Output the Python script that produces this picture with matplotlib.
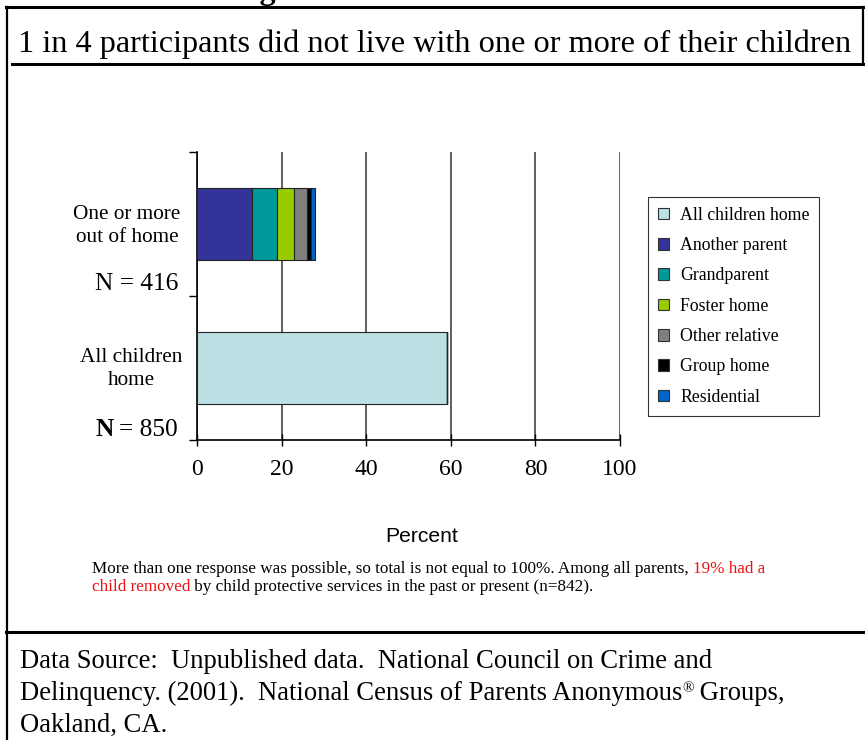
import matplotlib
matplotlib.use("Agg")
import matplotlib.pyplot as plt
from matplotlib.lines import Line2D
from matplotlib.patches import Patch

plt.rcParams['font.family'] = 'Liberation Serif'

groups = ['All children home', 'One or more out of home']
series = ['All children home', 'Another parent', 'Grandparent', 'Foster home',
          'Other relative', 'Group home', 'Residential']
colors = ['#BBE0E3', '#333399', '#009999', '#99CC00', '#808080', '#000000', '#0066CC']
# values per series for [All children home, One or more out of home]
all_home = [59, 0]
another_parent = [0, 13]
grandparent = [0, 6]
foster_home = [0, 4]
other_relative = [0, 3]
group_home = [0, 1]
residential = [0, 1]
values = [all_home, another_parent, grandparent, foster_home,
          other_relative, group_home, residential]
xticks = [0, 20, 40, 60, 80, 100]

W, H = 865, 740
fig = plt.figure(figsize=(W / 100, H / 100), dpi=100)


def fx(px):
    return px / W


def fy(py):
    return 1 - py / H


# frame lines
def hline(y, x0, x1, lw=2.2):
    fig.add_artist(Line2D([fx(x0), fx(x1)], [fy(y), fy(y)], color='black', lw=lw))


def vline(x, y0, y1, lw=1.6):
    fig.add_artist(Line2D([fx(x), fx(x)], [fy(y0), fy(y1)], color='black', lw=lw))


hline(7, 6, 865)
vline(7, 7, 740)
vline(863, 7, 64)
hline(64, 12, 863)
hline(632, 6, 865)

# figure heading, cut off at the top edge as in the source
fig.text(fx(442), fy(-1.5), "Figure 6: Children's Residence", ha='center', va='baseline',
         fontsize=23, fontweight='bold')

fig.text(fx(435), fy(52), '1 in 4 participants did not live with one or more of their children',
         ha='center', va='baseline', fontsize=23.2)

ax = fig.add_axes([fx(197), fy(440), fx(620) - fx(197), (440 - 152) / H])
left = [0, 0]
for name, vals, c in zip(series, values, colors):
    ax.barh([0, 1], vals, left=left, height=0.5, color=c, edgecolor='#222222',
            linewidth=0.8, label=name, zorder=3)
    left = [a + b for a, b in zip(left, vals)]

ax.set_xlim(0, 100)
ax.set_ylim(-0.5, 1.5)
ax.set_xticks(xticks)
ax.set_xticklabels([str(t) for t in xticks], fontsize=17)
ax.tick_params(axis='x', direction='inout', length=8, width=1, pad=10)
ax.set_yticks([-0.5, 0.5, 1.5])
ax.set_yticklabels([])
ax.tick_params(axis='y', direction='out', length=6, width=1)
ax.grid(axis='x', color='#444444', lw=1.2, zorder=1)
for s in ['top', 'right']:
    ax.spines[s].set_visible(False)
ax.spines['left'].set_linewidth(1.2)
ax.spines['bottom'].set_linewidth(1.2)

# category labels
fig.text(fx(127), fy(226), 'One or more\nout of home', ha='center', va='center',
         fontsize=15.3, linespacing=1.3)
fig.text(fx(178), fy(290), 'N = 416', ha='right', va='baseline', fontsize=18.3)
fig.text(fx(131), fy(369), 'All children\nhome', ha='center', va='center',
         fontsize=15.3, linespacing=1.3)
t850 = fig.text(fx(178), fy(436), '= 850', ha='right', va='baseline', fontsize=18.3)
ax.annotate('N', xy=(0, 0), xycoords=t850, xytext=(-4, 0), textcoords='offset points',
            ha='right', va='bottom', fontsize=18.3, fontweight='bold', annotation_clip=False)

handles = [Patch(facecolor=c, edgecolor='#333333', lw=0.8) for c in colors]
leg = ax.legend(handles, series, loc='upper left', bbox_to_anchor=(fx(648), fy(197)),
                bbox_transform=fig.transFigure, fontsize=12.8, frameon=True, fancybox=False,
                edgecolor='black', handlelength=0.65, handleheight=0.65, handletextpad=0.6,
                labelspacing=0.75, borderpad=0.55, borderaxespad=0)
leg.get_frame().set_linewidth(0.8)

fig.text(fx(422), fy(542), 'Percent', ha='center', va='baseline', fontsize=15.2,
         family='Liberation Sans')

# footnote with red part
fs = 12.3
t1 = fig.text(fx(92), fy(573), 'More than one response was possible, so total is not equal to 100%. '
              'Among all parents, ', ha='left', va='baseline', fontsize=fs)
ax.annotate('19% had a', xy=(1, 0), xycoords=t1, va='bottom', ha='left',
            fontsize=fs, color='#EE1111', annotation_clip=False)
t2 = fig.text(fx(92), fy(591), 'child removed', ha='left', va='baseline', fontsize=fs,
              color='#EE1111')
ax.annotate(' by child protective services in the past or present (n=842).', xy=(1, 0),
            xycoords=t2, va='bottom', ha='left', fontsize=fs, annotation_clip=False)

# data source
ds = 19.2
fig.text(fx(20), fy(668), 'Data Source:  Unpublished data.  National Council on Crime and',
         ha='left', va='baseline', fontsize=ds)
t3 = fig.text(fx(20), fy(700), 'Delinquency. (2001).  National Census of Parents Anonymous',
              ha='left', va='baseline', fontsize=ds)
ax.annotate('\u00ae', xy=(1, 0), xycoords=t3, xytext=(0, 8), textcoords='offset points',
            va='bottom', ha='left', fontsize=11, annotation_clip=False)
ax.annotate(' Groups,', xy=(1, 0), xycoords=t3, xytext=(8, 0), textcoords='offset points',
            va='bottom', ha='left', fontsize=ds, annotation_clip=False)
fig.text(fx(20), fy(732), 'Oakland, CA.', ha='left', va='baseline', fontsize=ds)

fig.savefig('out.png', dpi=100)
